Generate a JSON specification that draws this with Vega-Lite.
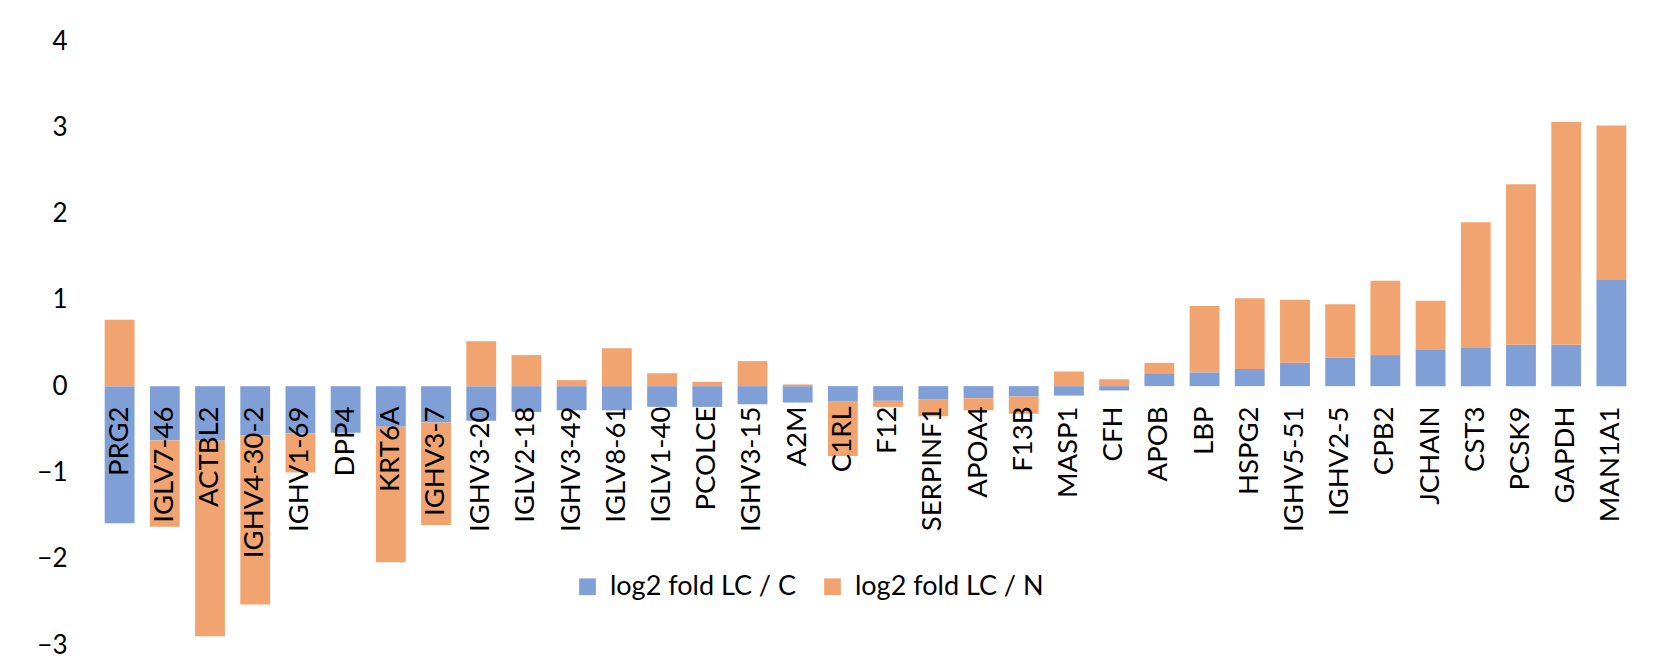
{
  "$schema": "https://vega.github.io/schema/vega-lite/v6.json",
  "autosize": {"type": "none"},
  "padding": {"left": 97, "top": 41, "right": 23, "bottom": 24},
  "width": 1537,
  "height": 604,
  "background": "white",
  "config": {"view": {"stroke": null}, "font": "Lato"},
  "data": {
    "values": [
      {"gene": "PRG2", "series": "log2 fold LC / C", "value": -1.59},
      {"gene": "PRG2", "series": "log2 fold LC / N", "value": 0.77},
      {"gene": "IGLV7-46", "series": "log2 fold LC / C", "value": -0.63},
      {"gene": "IGLV7-46", "series": "log2 fold LC / N", "value": -1.0},
      {"gene": "ACTBL2", "series": "log2 fold LC / C", "value": -0.63},
      {"gene": "ACTBL2", "series": "log2 fold LC / N", "value": -2.27},
      {"gene": "IGHV4-30-2", "series": "log2 fold LC / C", "value": -0.57},
      {"gene": "IGHV4-30-2", "series": "log2 fold LC / N", "value": -1.96},
      {"gene": "IGHV1-69", "series": "log2 fold LC / C", "value": -0.55},
      {"gene": "IGHV1-69", "series": "log2 fold LC / N", "value": -0.45},
      {"gene": "DPP4", "series": "log2 fold LC / C", "value": -0.54},
      {"gene": "DPP4", "series": "log2 fold LC / N", "value": 0},
      {"gene": "KRT6A", "series": "log2 fold LC / C", "value": -0.47},
      {"gene": "KRT6A", "series": "log2 fold LC / N", "value": -1.57},
      {"gene": "IGHV3-7", "series": "log2 fold LC / C", "value": -0.42},
      {"gene": "IGHV3-7", "series": "log2 fold LC / N", "value": -1.19},
      {"gene": "IGHV3-20", "series": "log2 fold LC / C", "value": -0.4},
      {"gene": "IGHV3-20", "series": "log2 fold LC / N", "value": 0.52},
      {"gene": "IGLV2-18", "series": "log2 fold LC / C", "value": -0.3},
      {"gene": "IGLV2-18", "series": "log2 fold LC / N", "value": 0.36},
      {"gene": "IGHV3-49", "series": "log2 fold LC / C", "value": -0.28},
      {"gene": "IGHV3-49", "series": "log2 fold LC / N", "value": 0.07},
      {"gene": "IGLV8-61", "series": "log2 fold LC / C", "value": -0.28},
      {"gene": "IGLV8-61", "series": "log2 fold LC / N", "value": 0.44},
      {"gene": "IGLV1-40", "series": "log2 fold LC / C", "value": -0.24},
      {"gene": "IGLV1-40", "series": "log2 fold LC / N", "value": 0.15},
      {"gene": "PCOLCE", "series": "log2 fold LC / C", "value": -0.24},
      {"gene": "PCOLCE", "series": "log2 fold LC / N", "value": 0.05},
      {"gene": "IGHV3-15", "series": "log2 fold LC / C", "value": -0.21},
      {"gene": "IGHV3-15", "series": "log2 fold LC / N", "value": 0.29},
      {"gene": "A2M", "series": "log2 fold LC / C", "value": -0.19},
      {"gene": "A2M", "series": "log2 fold LC / N", "value": 0.02},
      {"gene": "C1RL", "series": "log2 fold LC / C", "value": -0.18},
      {"gene": "C1RL", "series": "log2 fold LC / N", "value": -0.63},
      {"gene": "F12", "series": "log2 fold LC / C", "value": -0.17},
      {"gene": "F12", "series": "log2 fold LC / N", "value": -0.07},
      {"gene": "SERPINF1", "series": "log2 fold LC / C", "value": -0.15},
      {"gene": "SERPINF1", "series": "log2 fold LC / N", "value": -0.2},
      {"gene": "APOA4", "series": "log2 fold LC / C", "value": -0.14},
      {"gene": "APOA4", "series": "log2 fold LC / N", "value": -0.14},
      {"gene": "F13B", "series": "log2 fold LC / C", "value": -0.12},
      {"gene": "F13B", "series": "log2 fold LC / N", "value": -0.2},
      {"gene": "MASP1", "series": "log2 fold LC / C", "value": -0.11},
      {"gene": "MASP1", "series": "log2 fold LC / N", "value": 0.17},
      {"gene": "CFH", "series": "log2 fold LC / C", "value": -0.05},
      {"gene": "CFH", "series": "log2 fold LC / N", "value": 0.08},
      {"gene": "APOB", "series": "log2 fold LC / C", "value": 0.15},
      {"gene": "APOB", "series": "log2 fold LC / N", "value": 0.12},
      {"gene": "LBP", "series": "log2 fold LC / C", "value": 0.16},
      {"gene": "LBP", "series": "log2 fold LC / N", "value": 0.77},
      {"gene": "HSPG2", "series": "log2 fold LC / C", "value": 0.2},
      {"gene": "HSPG2", "series": "log2 fold LC / N", "value": 0.82},
      {"gene": "IGHV5-51", "series": "log2 fold LC / C", "value": 0.27},
      {"gene": "IGHV5-51", "series": "log2 fold LC / N", "value": 0.73},
      {"gene": "IGHV2-5", "series": "log2 fold LC / C", "value": 0.33},
      {"gene": "IGHV2-5", "series": "log2 fold LC / N", "value": 0.62},
      {"gene": "CPB2", "series": "log2 fold LC / C", "value": 0.36},
      {"gene": "CPB2", "series": "log2 fold LC / N", "value": 0.86},
      {"gene": "JCHAIN", "series": "log2 fold LC / C", "value": 0.42},
      {"gene": "JCHAIN", "series": "log2 fold LC / N", "value": 0.57},
      {"gene": "CST3", "series": "log2 fold LC / C", "value": 0.45},
      {"gene": "CST3", "series": "log2 fold LC / N", "value": 1.45},
      {"gene": "PCSK9", "series": "log2 fold LC / C", "value": 0.48},
      {"gene": "PCSK9", "series": "log2 fold LC / N", "value": 1.86},
      {"gene": "GAPDH", "series": "log2 fold LC / C", "value": 0.48},
      {"gene": "GAPDH", "series": "log2 fold LC / N", "value": 2.58},
      {"gene": "MAN1A1", "series": "log2 fold LC / C", "value": 1.24},
      {"gene": "MAN1A1", "series": "log2 fold LC / N", "value": 1.78}
    ]
  },
  "mark": {"type": "bar"},
  "encoding": {
    "x": {
      "field": "gene",
      "type": "nominal",
      "sort": null,
      "title": null,
      "scale": {"paddingInner": 0.34, "paddingOuter": 0.17},
      "axis": {
        "offset": -259,
        "domain": false,
        "ticks": false,
        "tickSize": 0,
        "labelAngle": 270,
        "labelAlign": "right",
        "labelBaseline": "middle",
        "labelPadding": 20,
        "labelFontSize": 27.5,
        "labelFont": "Lato",
        "labelColor": "#000000",
        "labelOverlap": false,
        "labelLimit": 0,
        "zindex": 1
      }
    },
    "y": {
      "field": "value",
      "type": "quantitative",
      "stack": "zero",
      "title": null,
      "scale": {"domain": [-3, 4], "nice": false, "zero": false},
      "axis": {
        "values": [-3, -2, -1, 0, 1, 2, 3, 4],
        "domain": false,
        "ticks": false,
        "tickSize": 0,
        "grid": false,
        "labelPadding": 30,
        "labelFontSize": 26,
        "labelFont": "Lato",
        "labelColor": "#000000"
      }
    },
    "color": {
      "field": "series",
      "type": "nominal",
      "scale": {
        "domain": ["log2 fold LC / C", "log2 fold LC / N"],
        "range": ["#7f9fd6", "#f1a46f"]
      },
      "legend": {
        "title": null,
        "orient": "none",
        "legendX": 477,
        "legendY": 532,
        "direction": "horizontal",
        "symbolType": "square",
        "symbolSize": 279,
        "symbolStrokeWidth": 0,
        "labelFontSize": 27,
        "labelFont": "Lato",
        "labelColor": "#000000",
        "labelOffset": 9,
        "columnPadding": 22,
        "labelLimit": 0
      }
    },
    "order": {"field": "series", "type": "nominal"}
  }
}
